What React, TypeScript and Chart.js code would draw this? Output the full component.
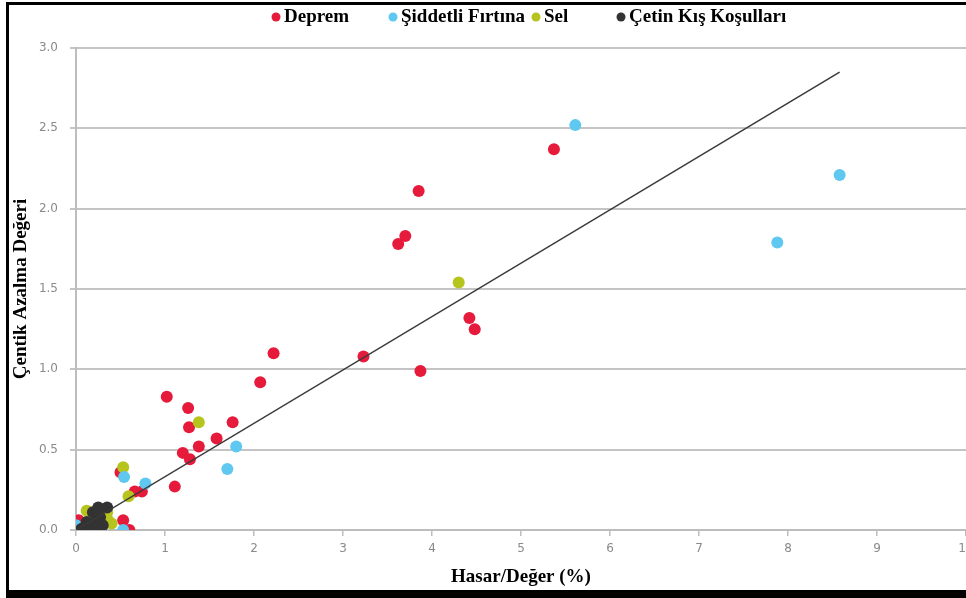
import React, { useEffect, useRef } from 'react';
import { Chart, registerables } from 'chart.js';

Chart.register(...registerables);

// ---- Data ----
const depremX = [5.37, 3.85, 3.70, 3.62, 4.42, 4.48, 3.23, 3.87, 2.22, 2.07, 1.02, 1.26, 1.27, 1.76, 1.58, 1.38, 1.20, 1.28, 1.11, 0.50, 0.66, 0.74, 0.53, 0.60, 0.03, 0.08];
const depremY = [2.37, 2.11, 1.83, 1.78, 1.32, 1.25, 1.08, 0.99, 1.10, 0.92, 0.83, 0.76, 0.64, 0.67, 0.57, 0.52, 0.48, 0.44, 0.27, 0.36, 0.24, 0.24, 0.06, 0.00, 0.06, 0.00];

const firtinaX = [5.61, 8.58, 7.88, 1.80, 1.70, 0.54, 0.78, 0.53, 0.00, 0.22];
const firtinaY = [2.52, 2.21, 1.79, 0.52, 0.38, 0.33, 0.29, 0.00, 0.03, 0.02];

const selX = [4.30, 1.38, 0.53, 0.59, 0.12, 0.35, 0.36, 0.40, 0.20];
const selY = [1.54, 0.67, 0.39, 0.21, 0.12, 0.11, 0.06, 0.04, 0.10];

const kisX = [0.25, 0.35, 0.19, 0.27, 0.12, 0.07, 0.19, 0.27, 0.15, 0.22, 0.30, 0.10, 0.05, 0.25];
const kisY = [0.14, 0.14, 0.11, 0.08, 0.05, 0.01, 0.01, 0.00, 0.03, 0.05, 0.03, 0.00, 0.00, 0.12];

const trendX = [0, 8.58];
const trendY = [0, 2.85];

const seriesNames = ['Deprem', 'Şiddetli Fırtına', 'Sel', 'Çetin Kış Koşulları'];
const seriesColors = ['#e61a3a', '#5ec8f0', '#b6c41e', '#333333'];

const xTicksMax = 10;
const yTicksMax = 3;
const xTitle = 'Hasar/Değer (%)';
const yTitle = 'Çentik Azalma Değeri';

// ---- Style ----
const SERIF = "'Liberation Serif', 'Times New Roman', serif";
const TICK_FONT = "'DejaVu Sans', sans-serif";
const LEGEND_MARKER_X = [276, 393, 536, 621];

const toPts = (xs: number[], ys: number[]) => xs.map((x, i) => ({ x, y: ys[i] }));

const manualLegend = {
  id: 'manualLegend',
  afterDraw(chart: any) {
    const { ctx } = chart;
    ctx.save();
    ctx.font = `bold 19px ${SERIF}`;
    ctx.textBaseline = 'alphabetic';
    ctx.textAlign = 'left';
    chart.data.datasets.forEach((ds: any) => {
      if (ds.legendIndex == null) return;
      const cx = LEGEND_MARKER_X[ds.legendIndex];
      ctx.fillStyle = ds.backgroundColor;
      ctx.beginPath();
      ctx.arc(cx, 17, 4.5, 0, Math.PI * 2);
      ctx.fill();
      ctx.fillStyle = '#000';
      ctx.fillText(ds.label, cx + 8, 22);
    });
    ctx.restore();
  },
};

export default function App() {
  const canvasRef = useRef<HTMLCanvasElement | null>(null);

  useEffect(() => {
    if (!canvasRef.current) return;
    const xs = [depremX, firtinaX, selX, kisX];
    const ys = [depremY, firtinaY, selY, kisY];
    const orders = [4, 2, 3, 1];
    const scatterSets = seriesNames.map((name, i) => ({
      type: 'scatter' as const,
      label: name,
      legendIndex: i,
      data: toPts(xs[i], ys[i]),
      backgroundColor: seriesColors[i],
      borderColor: seriesColors[i],
      borderWidth: 0,
      pointRadius: 6,
      pointHoverRadius: 6,
      order: orders[i],
    }));
    const trendSet = {
      type: 'line' as const,
      label: 'trend',
      data: toPts(trendX, trendY),
      borderColor: '#3a3a3a',
      borderWidth: 1.5,
      pointRadius: 0,
      fill: false,
      order: 0,
    };

    const chart = new Chart(canvasRef.current, {
      type: 'scatter',
      data: { datasets: [...scatterSets, trendSet] as any },
      options: {
        animation: false,
        responsive: false,
        devicePixelRatio: 1,
        events: [],
        layout: { padding: { top: 48, right: 34, bottom: 0, left: 0 } },
        plugins: {
          legend: { display: false },
          tooltip: { enabled: false },
        },
        scales: {
          x: {
            type: 'linear',
            min: 0,
            max: xTicksMax,
            ticks: {
              stepSize: 1,
              color: '#8a8a8a',
              font: { family: TICK_FONT, size: 12 },
              padding: 6,
              callback: (v: any) => String(v),
            },
            grid: {
              drawOnChartArea: false,
              drawTicks: true,
              tickLength: 6,
              color: '#bdbdbd',
              lineWidth: 1.5,
            },
            border: { display: true, color: '#bdbdbd', width: 2 },
            title: {
              display: true,
              text: xTitle,
              color: '#000',
              font: { family: SERIF, size: 19, weight: 'bold' },
              padding: { top: 0, bottom: 10 },
            },
            afterFit: (s: any) => {
              s.height = 68;
            },
          },
          y: {
            type: 'linear',
            min: 0,
            max: yTicksMax,
            ticks: {
              stepSize: 0.5,
              color: '#8a8a8a',
              font: { family: TICK_FONT, size: 12 },
              padding: 12,
              callback: (v: any) => Number(v).toFixed(1),
            },
            grid: {
              drawTicks: true,
              tickLength: 6,
              color: '#c4c4c4',
              lineWidth: 2,
            },
            border: { display: true, color: '#bdbdbd', width: 2 },
            title: {
              display: true,
              text: yTitle,
              color: '#000',
              font: { family: SERIF, size: 19, weight: 'bold' },
              padding: { top: 10, bottom: 0 },
            },
            afterFit: (s: any) => {
              s.width = 76;
            },
          },
        },
      } as any,
      plugins: [manualLegend],
    });
    return () => chart.destroy();
  }, []);

  return (
    <div
      style={{
        position: 'fixed',
        left: 0,
        top: 0,
        width: 966,
        height: 598,
        overflow: 'hidden',
        background: '#fff',
      }}
    >
      <canvas
        ref={canvasRef}
        width={1000}
        height={598}
        style={{ position: 'absolute', left: 0, top: 0, width: 1000, height: 598, display: 'block' }}
      />
      <div
        style={{
          position: 'absolute',
          left: 6,
          top: 2,
          width: 1100,
          height: 596,
          boxSizing: 'border-box',
          borderTop: '3px solid #000',
          borderLeft: '3px solid #000',
          borderBottom: '8px solid #000',
          pointerEvents: 'none',
        }}
      />
    </div>
  );
}
